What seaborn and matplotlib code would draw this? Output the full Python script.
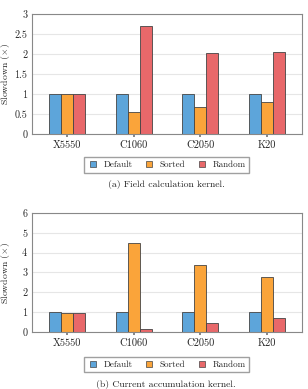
import numpy as np
import pandas as pd
import seaborn as sns
from matplotlib import pyplot as plt

# data
gpus = ['X5550', 'C1060', 'C2050', 'K20']
methods = ['Default', 'Sorted', 'Random']
field_default = [1.0, 1.0, 1.0, 1.0]
field_sorted = [1.0, 0.55, 0.68, 0.80]
field_random = [1.0, 2.70, 2.03, 2.06]
accum_default = [1.0, 1.0, 1.0, 1.0]
accum_sorted = [0.95, 4.50, 3.40, 2.75]
accum_random = [0.95, 0.15, 0.45, 0.70]

colors = ['#5DA5DA', '#FAA43A', '#E8686A']

sns.set_theme(style='whitegrid')
plt.rcParams['font.family'] = ['cmr10', 'DejaVu Serif']
plt.rcParams['mathtext.fontset'] = 'cm'
plt.rcParams['axes.formatter.use_mathtext'] = True


def make_df(d, s, r):
    rows = []
    for vals, m in zip([d, s, r], methods):
        for g, v in zip(gpus, vals):
            rows.append({'gpu': g, 'method': m, 'value': v})
    return pd.DataFrame(rows)


fig = plt.figure(figsize=(3.08, 3.89), dpi=100)
ax1 = fig.add_axes([0.104, 0.6555, 0.877, 0.3085])
ax2 = fig.add_axes([0.104, 0.1465, 0.877, 0.306])

panels = [
    (ax1, make_df(field_default, field_sorted, field_random), 3, [0, 0.5, 1, 1.5, 2, 2.5, 3],
     ['0', '0.5', '1', '1.5', '2', '2.5', '3'], '(a) Field calculation kernel.', 0.576, 0.514),
    (ax2, make_df(accum_default, accum_sorted, accum_random), 6, [0, 1, 2, 3, 4, 5, 6],
     ['0', '1', '2', '3', '4', '5', '6'], '(b) Current accumulation kernel.', 0.063, 0.0),
]

for ax, df, ymax, yt, ytl, cap, leg_y, cap_y in panels:
    sns.barplot(data=df, x='gpu', y='value', hue='method', order=gpus, hue_order=methods,
                palette=colors, width=0.54, edgecolor='#444444', linewidth=0.6,
                saturation=1, ax=ax, legend=False)
    ax.set_xlim(-0.525, 3.525)
    ax.set_ylim(0, ymax)
    ax.set_yticks(yt)
    ax.set_yticklabels(ytl)
    ax.set_xlabel('')
    ax.set_ylabel(r'Slowdown ($\times$)', fontsize=7)
    ax.yaxis.set_label_coords(-0.076, 0.5)
    ax.tick_params(axis='y', labelsize=7.3, pad=3.5, length=0)
    ax.tick_params(axis='x', labelsize=7.5, pad=3, length=2, color='#777777', bottom=True)
    ax.grid(axis='y', color='#e6e6e6', linewidth=0.8)
    ax.grid(axis='x', visible=False)
    ax.set_axisbelow(True)
    for sp in ax.spines.values():
        sp.set_color('#888888')
        sp.set_linewidth(0.8)
    handles = [plt.Line2D([], [], marker='s', linestyle='', markersize=5,
                          markerfacecolor=c, markeredgecolor='#444444', markeredgewidth=0.5)
               for c in colors]
    fig.legend(handles, methods, loc='center', bbox_to_anchor=(0.54, leg_y), ncol=3,
               fontsize=6.5, frameon=True, fancybox=False, edgecolor='#888888',
               handletextpad=0.6, columnspacing=1.2, borderpad=0.4, handlelength=1.2)
    fig.text(0.54, cap_y, cap, ha='center', va='bottom', fontsize=7)

fig.savefig('out.png', dpi=100)
